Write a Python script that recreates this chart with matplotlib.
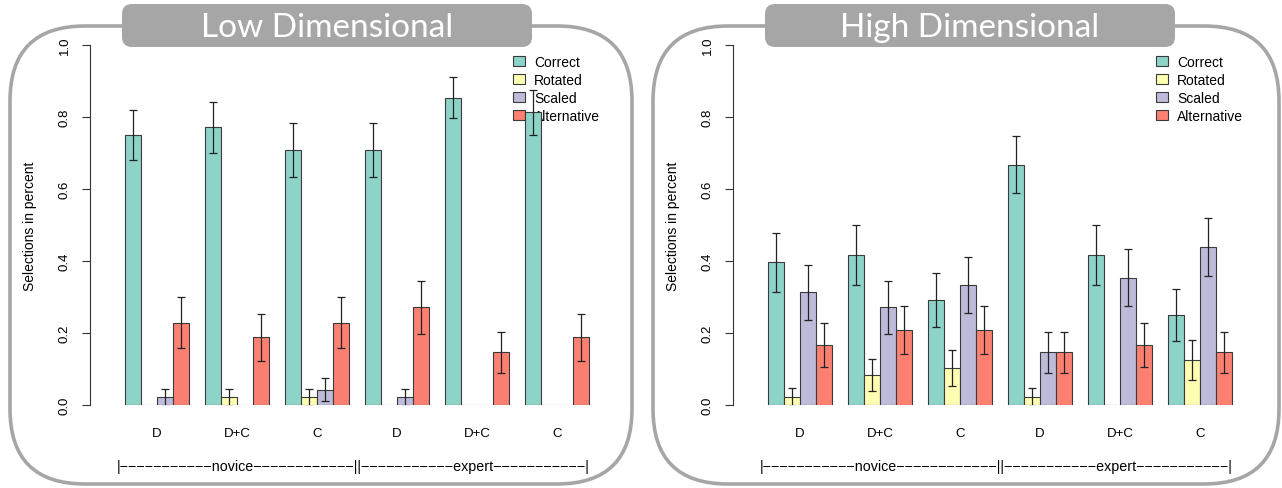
import numpy as np
import matplotlib.pyplot as plt
from matplotlib.patches import FancyBboxPatch, Patch

plt.rcParams['font.family'] = ['Liberation Sans', 'DejaVu Sans']

# data
groups = ['D', 'D+C', 'C', 'D', 'D+C', 'C']
series = ['Correct', 'Rotated', 'Scaled', 'Alternative']
colors = ['#8dd3c7', '#ffffb3', '#bebada', '#fb8072']

low_correct = [0.750, 0.771, 0.708, 0.708, 0.854, 0.813]
low_rotated = [0.0, 0.021, 0.021, 0.0, 0.0, 0.0]
low_scaled  = [0.021, 0.0, 0.042, 0.021, 0.0, 0.0]
low_alt     = [0.229, 0.188, 0.229, 0.271, 0.146, 0.188]
low_correct_err = [0.070, 0.070, 0.075, 0.075, 0.057, 0.063]
low_rotated_err = [0.0, 0.023, 0.023, 0.0, 0.0, 0.0]
low_scaled_err  = [0.023, 0.0, 0.032, 0.023, 0.0, 0.0]
low_alt_err     = [0.070, 0.065, 0.070, 0.074, 0.058, 0.065]

high_correct = [0.396, 0.417, 0.292, 0.667, 0.417, 0.250]
high_rotated = [0.021, 0.083, 0.104, 0.021, 0.0, 0.125]
high_scaled  = [0.313, 0.271, 0.333, 0.146, 0.354, 0.438]
high_alt     = [0.167, 0.208, 0.208, 0.146, 0.167, 0.146]
high_correct_err = [0.082, 0.083, 0.075, 0.079, 0.083, 0.072]
high_rotated_err = [0.025, 0.045, 0.050, 0.025, 0.0, 0.056]
high_scaled_err  = [0.077, 0.074, 0.078, 0.058, 0.079, 0.081]
high_alt_err     = [0.062, 0.067, 0.067, 0.058, 0.062, 0.058]

panels = [
    ('Low Dimensional', [low_correct, low_rotated, low_scaled, low_alt],
     [low_correct_err, low_rotated_err, low_scaled_err, low_alt_err]),
    ('High Dimensional', [high_correct, high_rotated, high_scaled, high_alt],
     [high_correct_err, high_rotated_err, high_scaled_err, high_alt_err]),
]

W, H = 1282, 489
fig = plt.figure(figsize=(W / 100, H / 100), dpi=100)

# background layer in pixel coordinates (frames and title tabs)
bg = fig.add_axes([0, 0, 1, 1], zorder=0)
bg.set_xlim(0, W)
bg.set_ylim(H, 0)
bg.axis('off')

grey = '#a6a6a6'
dash = '\u2212'
bracket = '|' + dash * 11 + 'novice' + dash * 12 + '||' + dash * 11 + 'expert' + dash * 11 + '|'

for k, (title, vals, errs) in enumerate(panels):
    ox = 643 * k
    frame_w = 622 if k == 0 else 626
    bg.add_patch(FancyBboxPatch((10 + ox, 27), frame_w, 458,
                                boxstyle='round,pad=0,rounding_size=75',
                                fc='white', ec=grey, lw=2.6))
    bg.add_patch(FancyBboxPatch((122 + ox, 5), 410, 43,
                                boxstyle='round,pad=0,rounding_size=10',
                                fc=grey, ec='none'))
    bg.text(327 + ox, 28, title, ha='center', va='center', color='white',
            fontsize=24, family='Lato')

    ax = fig.add_axes([(90 + ox) / W, (H - 406) / H, 523 / W, 360 / H], zorder=1)
    ax.patch.set_alpha(0)
    ax.set_xlim(-1.19, 31.5)
    ax.set_ylim(0, 1)

    for j in range(4):
        pos = np.arange(6) * 5 + j + 1.5
        v = np.array(vals[j])
        e = np.array(errs[j])
        ax.bar(pos, v, width=1, color=colors[j], edgecolor='#3a3a3a', lw=0.8, zorder=2)
        m = v > 0
        ax.errorbar(pos[m], v[m], yerr=e[m], fmt='none', ecolor='#222222',
                    elinewidth=0.9, capsize=3.2, capthick=0.9, zorder=3)

    for s in ['top', 'right', 'bottom']:
        ax.spines[s].set_visible(False)
    ax.spines['left'].set_bounds(0, 1)
    ax.spines['left'].set_linewidth(0.8)
    ax.spines['left'].set_color('#333333')

    ax.set_yticks([0, 0.2, 0.4, 0.6, 0.8, 1.0])
    ax.set_yticklabels(['0.0', '0.2', '0.4', '0.6', '0.8', '1.0'],
                       rotation=90, va='center')
    ax.tick_params(axis='y', length=6, width=0.8, color='#333333',
                   labelsize=9.5, pad=8)
    ax.set_xticks(np.arange(6) * 5 + 3)
    ax.set_xticklabels(groups)
    ax.tick_params(axis='x', length=0, labelsize=9.5, pad=16)

    ax.set_ylabel('Selections in percent', fontsize=10, va='center')
    ax.yaxis.set_label_coords((30 - 90) / 523, 0.5)

    ax.text(15.25, (406 - 467) / 360, bracket, transform=ax.get_xaxis_transform(),
            ha='center', va='center', fontsize=10.3, clip_on=False)

    handles = [Patch(fc=c, ec='#3a3a3a', lw=0.8) for c in colors]
    leg = ax.legend(handles, series, loc='upper left',
                    bbox_to_anchor=((513 - 90) / 523, 1 - 10 / 360),
                    frameon=False, borderpad=0, borderaxespad=0,
                    handlelength=0.85, handleheight=0.75, handletextpad=0.65,
                    labelspacing=0.28, fontsize=10)
    leg.set_zorder(1)

fig.savefig('out.png', dpi=100)
